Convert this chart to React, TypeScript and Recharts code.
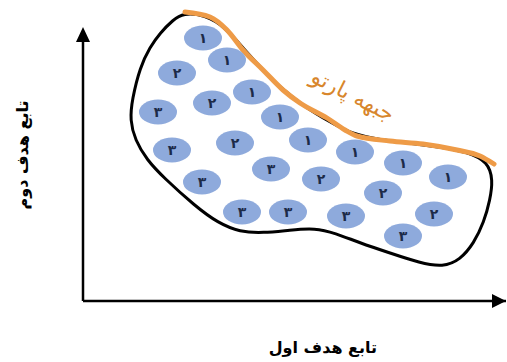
import { ComposedChart, Line, Scatter, XAxis, YAxis, ReferenceDot, ReferenceLine } from "recharts"

// solutions inside the feasible region, label = front rank (Persian digits)
const bubbleX = [120, 144, 94, 169, 129, 75, 197, 225, 152, 89, 272, 320, 188, 238, 365, 119, 300, 159, 205, 263, 351, 320]
const bubbleY = [263, 241, 228, 209, 198, 189, 184, 161, 158, 151, 149, 138, 132, 122, 124, 119, 108, 89, 89, 85, 87, 65]
const bubbleRank = ["۱", "۱", "۲", "۱", "۲", "۳", "۱", "۱", "۲", "۳", "۱", "۱", "۳", "۲", "۱", "۳", "۲", "۳", "۳", "۳", "۲", "۳"]

// outline of the feasible region (closed)
const regionX = [100, 122, 142, 160, 180, 200, 222, 247, 269, 297, 327, 357, 385, 405, 410, 407, 401, 391, 377, 360, 337, 307, 277, 252, 232, 207, 180, 157, 135, 112, 80, 64, 52, 47, 49, 57, 67, 77, 90]
const regionY = [288, 286, 274, 253, 231, 211, 194, 179, 167, 161, 158, 154, 149, 139, 121, 101, 79, 58, 41, 34, 38, 48, 58, 68, 73, 71, 68, 69, 78, 95, 124, 141, 161, 181, 201, 234, 254, 268, 281]

// pareto front along the upper edge
const frontX = [102, 127, 144, 160, 180, 200, 217, 244, 262, 274, 307, 340, 374, 397, 411]
const frontY = [289, 284, 271, 251, 231, 211, 198, 183, 171, 165, 160, 157, 151, 145, 137]

const xMax = 423
const yTop = 274
const yMax = 296

const bubbles = bubbleX.map((x, i) => ({ x, y: bubbleY[i], rank: bubbleRank[i] }))
const region = regionX.map((x, i) => ({ x, y: regionY[i] }))
const front = frontX.map((x, i) => ({ x, y: frontY[i] }))

const FONT = "'DejaVu Sans', sans-serif"

function Bubble(props: any) {
  const { cx, cy, payload } = props
  return (
    <g>
      <ellipse cx={cx} cy={cy} rx={19} ry={12.5} fill="#8eaadc" />
      <text
        x={cx}
        y={cy}
        textAnchor="middle"
        dominantBaseline="central"
        fontFamily={FONT}
        fontWeight="bold"
        fontSize={14}
        fill="#1c2a48"
      >
        {payload.rank}
      </text>
    </g>
  )
}

function ArrowRight(props: any) {
  const { cx, cy } = props
  return <polygon points={`${cx},${cy} ${cx - 14},${cy - 7} ${cx - 14},${cy + 7}`} fill="#000" />
}

function ArrowUp(props: any) {
  const { cx, cy } = props
  return <polygon points={`${cx},${cy} ${cx - 7},${cy + 15} ${cx + 7},${cy + 15}`} fill="#000" />
}

function FrontLabel(props: any) {
  const { cx, cy } = props
  return (
    <text
      x={cx}
      y={cy}
      textAnchor="middle"
      dominantBaseline="central"
      transform={`rotate(27, ${cx}, ${cy})`}
      fontFamily={FONT}
      fontSize={22}
      fill="#d8862c"
    >
      جبهه پارتو
    </text>
  )
}

export default function App() {
  return (
    <div style={{ position: "absolute", left: 0, top: 0, background: "#fff" }}>
      <ComposedChart width={507} height={362} margin={{ top: 5, right: 1, bottom: 0, left: 0 }}>
        <XAxis
          type="number"
          dataKey="x"
          domain={[0, xMax]}
          height={61}
          tick={false}
          tickLine={false}
          axisLine={{ stroke: "#000", strokeWidth: 2.5 }}
          label={{
            content: ({ viewBox }: any) => (
              <text
                x={viewBox.x + viewBox.width * 0.567}
                y={viewBox.y + 46}
                textAnchor="middle"
                dominantBaseline="central"
                fontFamily={FONT}
                fontWeight="bold"
                fontSize={16}
                fill="#000"
              >
                تابع هدف اول
              </text>
            ),
          }}
        />
        <YAxis
          type="number"
          dataKey="y"
          domain={[0, yMax]}
          width={83}
          tick={false}
          tickLine={false}
          axisLine={false}
          label={{
            content: ({ viewBox }: any) => {
              const x = viewBox.x + 22
              const y = viewBox.y + 150
              return (
                <text
                  x={x}
                  y={y}
                  textAnchor="middle"
                  dominantBaseline="central"
                  transform={`rotate(-90, ${x}, ${y})`}
                  fontFamily={FONT}
                  fontWeight="bold"
                  fontSize={16}
                  fill="#000"
                >
                  تابع هدف دوم
                </text>
              )
            },
          }}
        />
        <ReferenceLine
          segment={[
            { x: 0, y: 0 },
            { x: 0, y: yTop - 8 },
          ]}
          stroke="#000"
          strokeWidth={2.5}
        />
        <Line
          data={region}
          dataKey="y"
          type="basisClosed"
          stroke="#000"
          strokeWidth={3}
          dot={false}
          activeDot={false}
          isAnimationActive={false}
        />
        <Scatter data={bubbles} dataKey="y" shape={Bubble} isAnimationActive={false} />
        <Line
          data={front}
          dataKey="y"
          type="monotone"
          stroke="#ee9b47"
          strokeWidth={5}
          strokeLinecap="round"
          dot={false}
          activeDot={false}
          isAnimationActive={false}
        />
        <ReferenceDot x={270} y={206} shape={FrontLabel} />
        <ReferenceDot x={xMax} y={0} shape={ArrowRight} />
        <ReferenceDot x={0} y={yTop} shape={ArrowUp} />
      </ComposedChart>
    </div>
  )
}
